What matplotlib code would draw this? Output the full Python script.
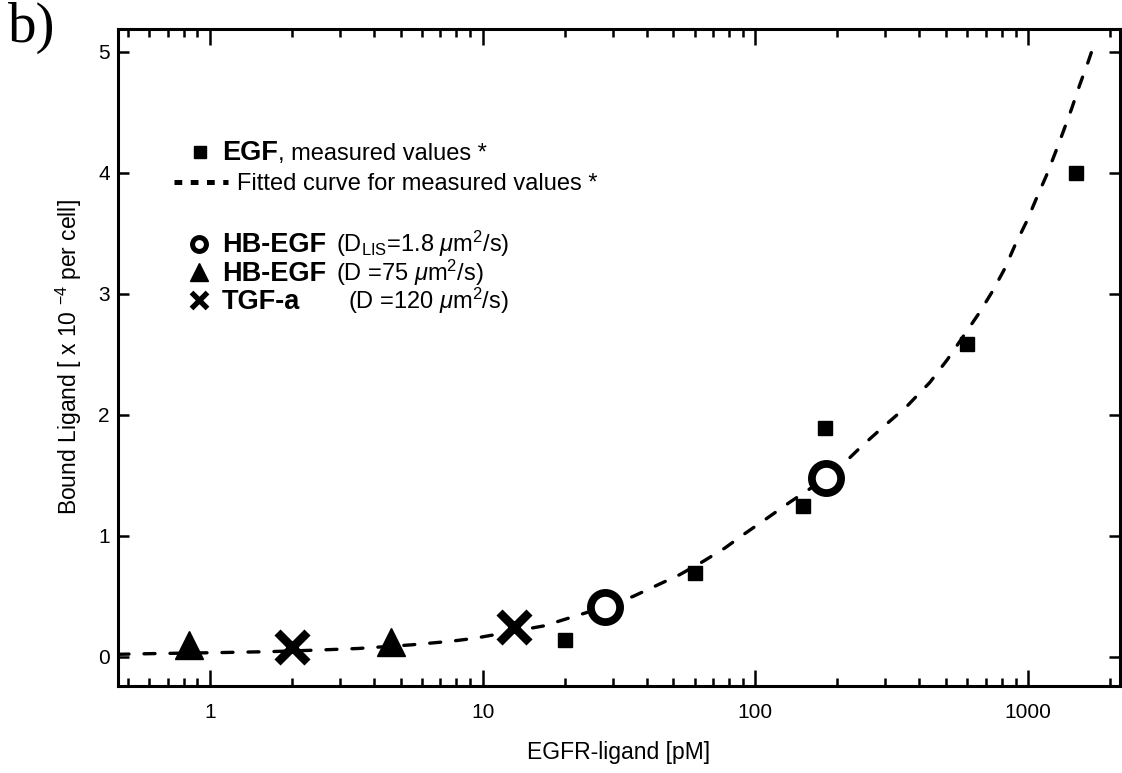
import matplotlib
matplotlib.use("Agg")
import matplotlib.pyplot as plt
from matplotlib.ticker import LogLocator, FuncFormatter, NullFormatter

plt.rcParams["font.family"] = ["Liberation Sans", "DejaVu Sans"]
plt.rcParams["mathtext.fontset"] = "custom"
plt.rcParams["mathtext.rm"] = "Liberation Sans"
plt.rcParams["mathtext.it"] = "Liberation Sans:italic"
plt.rcParams["mathtext.bf"] = "Liberation Sans:bold"

# EGF, measured values
egf_conc = [20, 60, 150, 180, 600, 1500]
egf_bound = [0.14, 0.69, 1.25, 1.89, 2.59, 4.00]

# HB-EGF with D_LIS = 1.8 um^2/s
hb_lis_conc = [28, 182]
hb_lis_bound = [0.41, 1.48]

# HB-EGF with D = 75 um^2/s
hb_conc = [0.84, 4.6]
hb_bound = [0.10, 0.12]

# TGF-a with D = 120 um^2/s
tgf_conc = [2.0, 13.0]
tgf_bound = [0.08, 0.25]

# fitted curve for the measured values
fit_conc = [0.46, 0.63, 1.07, 1.66, 2.49, 3.49, 5.47, 7.67, 9.38, 16.7, 24.0,
            35.6, 52.8, 64.4, 77.3, 91.6, 111, 134, 182, 207, 245, 294, 359,
            437, 507, 661, 740, 822, 895, 989, 1074, 1169, 1256, 1346, 1445,
            1549, 1663, 1758]
fit_bound = [0.022, 0.028, 0.036, 0.044, 0.057, 0.070, 0.100, 0.130, 0.155,
             0.256, 0.366, 0.50, 0.68, 0.79, 0.90, 1.02, 1.15, 1.28, 1.48,
             1.58, 1.74, 1.90, 2.07, 2.27, 2.46, 2.84, 3.02, 3.21, 3.40, 3.60,
             3.79, 3.98, 4.16, 4.34, 4.53, 4.73, 4.92, 5.08]

W, H = 1122, 773
fig = plt.figure(figsize=(W / 100, H / 100), dpi=100)
ax = fig.add_axes([118 / W, 1 - 686 / H, (1120 - 118) / W, (686 - 29) / H])


def fx(px):
    return px / W


def fy(py):
    return 1 - py / H


ax.plot(fit_conc, fit_bound, color="black", lw=2.4, ls=(0, (3.3, 4.5)),
        dash_capstyle="round", zorder=2)
ax.plot(egf_conc, egf_bound, ls="none", marker="s", ms=9.5, color="black", zorder=3)
ax.plot(hb_lis_conc, hb_lis_bound, ls="none", marker="o", ms=21, mfc="white",
        mec="black", mew=5.6, zorder=4)
ax.plot(hb_conc, hb_bound, ls="none", marker="^", ms=20, color="black", zorder=3)
ax.plot(tgf_conc, tgf_bound, ls="none", marker="x", ms=21, mec="black", mew=6.2,
        zorder=3)

ax.set_xscale("log")
ax.set_xlim(0.46, 2175)
ax.set_ylim(-0.24, 5.19)
ax.xaxis.set_major_locator(LogLocator(base=10))
ax.xaxis.set_minor_locator(LogLocator(base=10, subs=range(2, 10)))
ax.xaxis.set_major_formatter(FuncFormatter(lambda v, _: f"{v:g}"))
ax.xaxis.set_minor_formatter(NullFormatter())
ax.set_yticks([0, 1, 2, 3, 4, 5])

for s in ax.spines.values():
    s.set_linewidth(2.2)
ax.tick_params(which="both", direction="in", top=True, right=True, width=1.8,
               labelsize=15, color="black")
ax.tick_params(axis="x", which="major", length=11.5, pad=12)
ax.tick_params(axis="x", which="minor", length=5.5)
ax.tick_params(axis="y", which="major", length=8, pad=6)

ax.set_xlabel("EGFR-ligand [pM]", fontsize=16.5, labelpad=14)
ax.set_ylabel(r"Bound Ligand [ x 10 $^{-4}$ per cell]", fontsize=16.5, labelpad=10)

fig.text(fx(8), fy(2), "b)", family="Liberation Serif", fontsize=41,
         ha="left", va="top")

# key, drawn by hand so the bold names and units sit as in the paper
tf = fig.transFigure
ax.plot([fx(200)], [fy(152)], transform=tf, clip_on=False, marker="s", ms=9,
        color="black", ls="none")
ax.plot([fx(174), fx(228)], [fy(182), fy(182)], transform=tf, clip_on=False,
        color="black", lw=3.6, ls=(0, (1.55, 1.7)))
ax.plot([fx(199)], [fy(244)], transform=tf, clip_on=False, marker="o", ms=10,
        mfc="white", mec="black", mew=3.6, ls="none")
ax.plot([fx(199)], [fy(272)], transform=tf, clip_on=False, marker="^", ms=13.5,
        color="black", ls="none")
ax.plot([fx(199)], [fy(300)], transform=tf, clip_on=False, marker="x", ms=12,
        mec="black", mew=3.8, ls="none")

renderer = fig.canvas.get_renderer()
key_fs = 17
bold_fs = 19.5


def key_row(py, name, rest, rest_px=None):
    t = fig.text(fx(222), fy(py), name, fontsize=bold_fs, weight="bold",
                 ha="left", va="baseline")
    if rest_px is None:
        x0 = t.get_window_extent(renderer=renderer).x1 / W
    else:
        x0 = fx(rest_px)
    fig.text(x0, fy(py), rest, fontsize=key_fs, ha="left", va="baseline")


key_row(160, "EGF", ", measured values *")
fig.text(fx(237), fy(190), "Fitted curve for measured values *", fontsize=key_fs,
         ha="left", va="baseline")
key_row(252, "HB-EGF", r"(D$_{\mathrm{LIS}}$=1.8 $\mu$m$^{2}$/s)", rest_px=336)
key_row(281, "HB-EGF", r"(D =75 $\mu$m$^{2}$/s)", rest_px=336)
key_row(309, "TGF-a", r"(D =120 $\mu$m$^{2}$/s)", rest_px=348)

fig.savefig("out.png", dpi=100)
